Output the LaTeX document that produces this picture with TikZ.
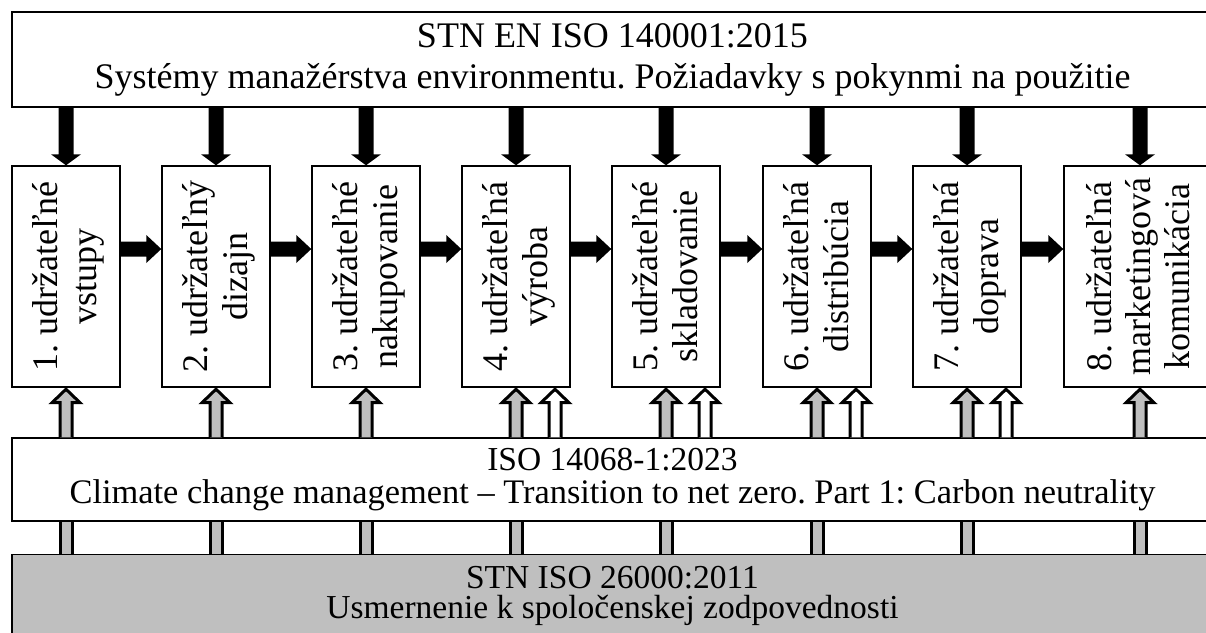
\documentclass[tikz,border=0pt]{standalone}
\usepackage{fontspec}
\setmainfont{Liberation Serif}
\usepackage{graphicx}
\usetikzlibrary{calc}
\definecolor{panelgray}{RGB}{191,191,191}
\frenchspacing

% vertical, centred label for a stage box
\newcommand\stagetext[1]{\rotatebox{90}{\raisebox{-3pt}[\height][\depth]{\begin{tabular}{@{}c@{}}#1\end{tabular}}}}

% black arrow from the top standard down to a stage
\newcommand\feedarrow[1]{%
  \fill ($(#1.north |- ems.south)+(-7.5,0)$) -- ($(#1.north)+(-7.5,-11)$)
    -- ($(#1.north)+(-15,-11)$) -- (#1.north) -- ($(#1.north)+(15,-11)$)
    -- ($(#1.north)+(7.5,-11)$) -- ($(#1.north |- ems.south)+(7.5,0)$) -- cycle;}

% black arrow between two neighbouring stages
\newcommand\flowarrow[2]{%
  \fill ($(#1.east)+(0,-35)$) -- ($(#2.west)+(-15,-35)$) -- ($(#2.west)+(-15,-41.5)$)
    -- ($(#2.west)+(0,-27.5)$) -- ($(#2.west)+(-15,-13.5)$) -- ($(#2.west)+(-15,-20)$)
    -- ($(#1.east)+(0,-20)$) -- cycle;}

% outlined arrow from the middle standard up to a stage (#2 = x offset, #3 = fill)
\newcommand\liftarrow[3]{%
  \filldraw[liftline, fill=#3] ($(#1.south |- iso.north)+(#2-6,0)$) -- ($(#1.south)+(#2-6,15)$)
    -- ($(#1.south)+(#2-14,15)$) -- ($(#1.south)+(#2,1.5)$) -- ($(#1.south)+(#2+14,15)$)
    -- ($(#1.south)+(#2+6,15)$) -- ($(#1.south |- iso.north)+(#2+6,0)$);}

% grey bar joining the bottom standard to the middle one
\newcommand\basebar[2]{%
  \fill[panelgray] ($(#1.south |- iso.south)+(#2-6,0)$) rectangle ($(#1.south |- base.north)+(#2+6,0)$);
  \draw[liftline] ($(#1.south |- iso.south)+(#2-6,0)$) -- ($(#1.south |- base.north)+(#2-6,0)$)
    ($(#1.south |- iso.south)+(#2+6,0)$) -- ($(#1.south |- base.north)+(#2+6,0)$);}

\tikzset{
  stdbox/.style={draw, line width=1.4pt, fill=white, minimum width=1201pt, inner sep=0pt, align=center},
  stagebox/.style={draw, line width=1.4pt, fill=white, minimum width=108pt, minimum height=221pt,
    inner sep=0pt, font=\fontsize{36}{40}\selectfont},
  liftline/.style={draw=black, line width=3pt, line join=miter},
}

\begin{document}
\begin{tikzpicture}[x=1pt,y=-1pt]
\useasboundingbox (0,0) rectangle (1206,632);

% standards
\node[stdbox, minimum height=95pt, font=\fontsize{36}{41}\selectfont] (ems) at (612.5,59.5)
  {STN EN ISO 140001:2015\\Systémy manažérstva environmentu. Požiadavky s pokynmi na použitie};
\node[stdbox, minimum height=83pt, font=\fontsize{33.5}{33}\selectfont] (iso) at (612.5,479.5)
  {ISO 14068-1:2023\\\fontsize{34.4}{33}\selectfont Climate change management – Transition to net zero. Part 1: Carbon neutrality};
\node[stdbox, fill=panelgray, minimum height=150pt, anchor=north] (base) at (612.5,554) {};
\node[font=\fontsize{33.5}{30}\selectfont, align=center, inner sep=0pt] (basetext) at (612.5,595.5)
  {STN ISO 26000:2011\\Usmernenie k spoločenskej zodpovednosti};

% stages
\node[stagebox] (s1) at (66,276.5)  {\stagetext{1. udržateľné\\vstupy}};
\node[stagebox] (s2) at (216,276.5) {\stagetext{2. udržateľný\\dizajn}};
\node[stagebox] (s3) at (366,276.5) {\stagetext{3. udržateľné\\nakupovanie}};
\node[stagebox] (s4) at (516,276.5) {\stagetext{4. udržateľná\\výroba}};
\node[stagebox] (s5) at (666,276.5) {\stagetext{5. udržateľné\\skladovanie}};
\node[stagebox] (s6) at (817,276.5) {\stagetext{6. udržateľná\\distribúcia}};
\node[stagebox] (s7) at (967,276.5) {\stagetext{7. udržateľná\\doprava}};
\node[stagebox, minimum width=152pt, font=\fontsize{36}{39}\selectfont] (s8) at (1140,276.5)
  {\stagetext{8. udržateľná\\marketingová\\komunikácia}};

% connectors
\foreach \s in {s1,s2,s3,s4,s5,s6,s7,s8} {
  \feedarrow{\s}
  \liftarrow{\s}{0}{panelgray}
  \basebar{\s}{0}
}
\foreach \a/\b in {s1/s2,s2/s3,s3/s4,s4/s5,s5/s6,s6/s7,s7/s8} {\flowarrow{\a}{\b}}
\foreach \s in {s4,s5,s6,s7} {\liftarrow{\s}{39}{white}}
\end{tikzpicture}
\end{document}
